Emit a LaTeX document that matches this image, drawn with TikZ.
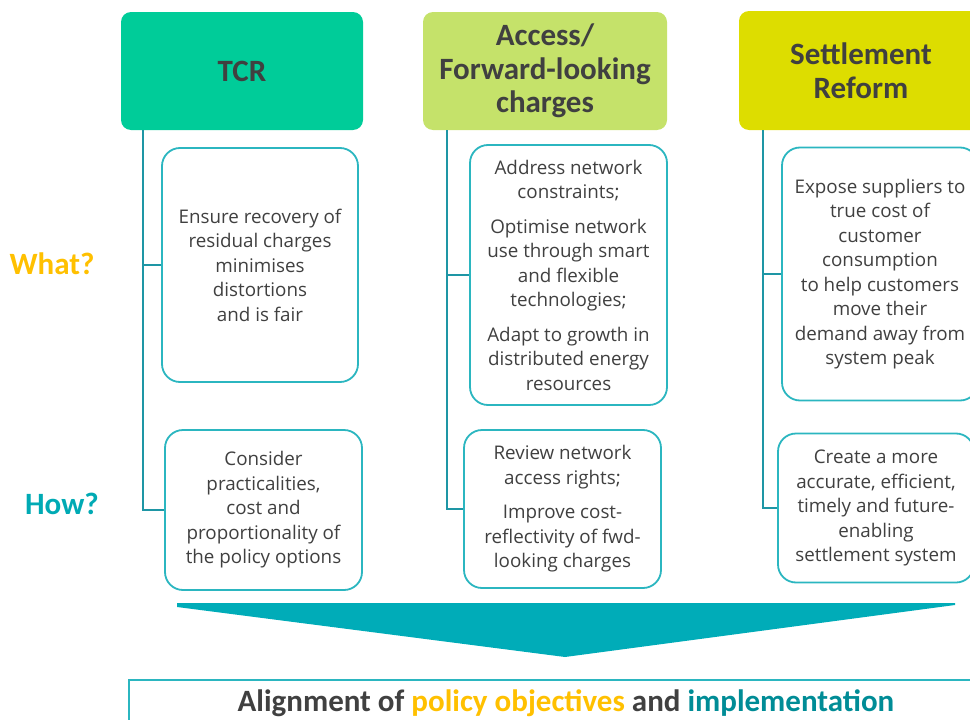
\documentclass[tikz,border=0pt]{standalone}
\usepackage{fontspec}
\setmainfont{Open Sans}
\newfontfamily\hfont{Carlito}
\definecolor{tcrc}{RGB}{0,204,153}
\definecolor{accc}{RGB}{197,226,106}
\definecolor{setc}{RGB}{221,221,0}
\definecolor{boxc}{RGB}{43,182,192}
\definecolor{linec}{RGB}{30,150,165}
\definecolor{arrc}{RGB}{0,172,184}
\definecolor{whatc}{RGB}{255,192,0}
\definecolor{howc}{RGB}{0,170,180}
\definecolor{implc}{RGB}{0,140,150}
\definecolor{txtc}{RGB}{64,64,64}
\begin{document}
\begin{tikzpicture}[x=1pt,y=-1pt,
  header/.style={rounded corners=10pt, inner sep=0pt, text=txtc, align=center,
    font=\hfont\bfseries\fontsize{31}{33.5}\selectfont},
  textbox/.style={draw=boxc, line width=1.8pt, rounded corners=18pt, fill=white,
    inner sep=0pt, text=txtc, align=center, font=\fontsize{18.8}{24.5}\selectfont},
  conn/.style={draw=linec, line width=1.6pt},
  side/.style={font=\hfont\bfseries\fontsize{31}{33}\selectfont}
]
\useasboundingbox (0,0) rectangle (970,720);
% headers
\node[header, fill=tcrc, minimum width=242pt, minimum height=118pt] (tcr) at (242,71) {TCR};
\node[header, fill=accc, minimum width=244pt, minimum height=118pt] (acc) at (545,71) {Access/\\Forward-looking\\charges};
\node[header, fill=setc, minimum width=244pt, minimum height=119pt] (set) at (861,70.5) {Settlement\\Reform};
% text boxes
\node[textbox, minimum width=196pt, minimum height=234pt] (tcrw) at (260,265)
  {Ensure recovery of\\residual charges\\minimises\\distortions\\and is fair};
\node[textbox, minimum width=197pt, minimum height=160pt] (tcrh) at (263.5,510)
  {Consider\\practicalities,\\cost and\\proportionality of\\the policy options};
\node[textbox, minimum width=197pt, minimum height=260pt] (accw) at (568.5,275)
  {Address network\\constraints;\\[10pt]Optimise network\\use through smart\\and flexible\\technologies;\\[10pt]Adapt to growth in\\distributed energy\\resources};
\node[textbox, minimum width=197pt, minimum height=158pt] (acch) at (562.5,509)
  {Review network\\access rights;\\[10pt]Improve cost-\\reflectivity of fwd-\\looking charges};
\node[textbox, minimum width=196pt, minimum height=253pt] (setw) at (880,274)
  {Expose suppliers to\\true cost of\\customer\\consumption\\to help customers\\move their\\demand away from\\system peak};
\node[textbox, minimum width=196pt, minimum height=149pt] (seth) at (876,508)
  {Create a more\\accurate, efficient,\\timely and future-\\enabling\\settlement system};
% connectors
\coordinate (tcrtop) at ([xshift=22pt]tcr.south west);
\coordinate (acctop) at ([xshift=24pt]acc.south west);
\coordinate (settop) at ([xshift=24pt]set.south west);
\draw[conn] (tcrtop) |- (tcrh.west);
\draw[conn] (tcrtop) |- (tcrw.west);
\draw[conn] (acctop) |- (acch.west);
\draw[conn] (acctop) |- (accw.west);
\draw[conn] (settop) |- (seth.west);
\draw[conn] (settop) |- (setw.west);
% side labels
\node[side, text=whatc] (what) at (52,264) {What?};
\node[side, text=howc] (how) at (62,504) {How?};
% big arrow
\fill[arrc] (177,603) -- (955,603) -- (955,605) -- (565,657) -- (177,607) -- cycle;
% bottom box
\node[draw=boxc, line width=1.5pt, minimum width=860pt, minimum height=60pt, inner sep=0pt,
  anchor=north west] (align) at (128,679) {};
\node[font=\hfont\bfseries\fontsize{31}{33}\selectfont, text=txtc, inner sep=0pt] (aligntxt) at (566,703)
  {Alignment of \textcolor{whatc}{policy objectives} and \textcolor{implc}{implementation}};
\end{tikzpicture}
\end{document}
